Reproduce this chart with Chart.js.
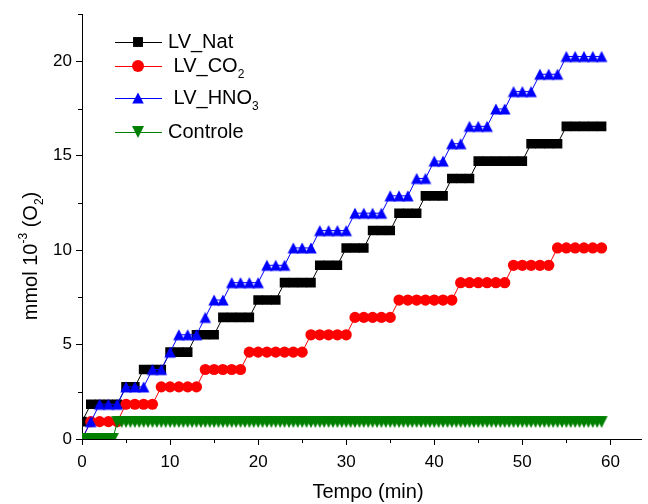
<!DOCTYPE html>
<html>
<head>
<meta charset="utf-8">
<script src="https://cdn.jsdelivr.net/npm/chart.js@4.4.1/dist/chart.umd.min.js"></script>
<style>
  html, body { margin: 0; padding: 0; background: #fff; }
  #wrap { width: 648px; height: 504px; }
</style>
</head>
<body>
<div id="wrap"><canvas id="chart" width="648" height="504"></canvas></div>
<script>
// time axis (min), one reading per minute for the three samples
const tempo = [
  0, 1, 2, 3, 4, 5, 6, 7, 8, 9,
  10, 11, 12, 13, 14, 15, 16, 17, 18, 19,
  20, 21, 22, 23, 24, 25, 26, 27, 28, 29,
  30, 31, 32, 33, 34, 35, 36, 37, 38, 39,
  40, 41, 42, 43, 44, 45, 46, 47, 48, 49,
  50, 51, 52, 53, 54, 55, 56, 57, 58, 59
];

const lvNat = [
  0.92, 1.84, 1.84, 1.84, 1.84, 2.76, 2.76, 3.68, 3.68, 3.68,
  4.6, 4.6, 4.6, 5.52, 5.52, 5.52, 6.44, 6.44, 6.44, 6.44,
  7.36, 7.36, 7.36, 8.28, 8.28, 8.28, 8.28, 9.2, 9.2, 9.2,
  10.12, 10.12, 10.12, 11.04, 11.04, 11.04, 11.96, 11.96, 11.96, 12.88,
  12.88, 12.88, 13.8, 13.8, 13.8, 14.72, 14.72, 14.72, 14.72, 14.72,
  14.72, 15.64, 15.64, 15.64, 15.64, 16.56, 16.56, 16.56, 16.56, 16.56
];

const lvCO2 = [
  0, 0.92, 0.92, 0.92, 0.92, 1.84, 1.84, 1.84, 1.84, 2.76,
  2.76, 2.76, 2.76, 2.76, 3.68, 3.68, 3.68, 3.68, 3.68, 4.6,
  4.6, 4.6, 4.6, 4.6, 4.6, 4.6, 5.52, 5.52, 5.52, 5.52,
  5.52, 6.44, 6.44, 6.44, 6.44, 6.44, 7.36, 7.36, 7.36, 7.36,
  7.36, 7.36, 7.36, 8.28, 8.28, 8.28, 8.28, 8.28, 8.28, 9.2,
  9.2, 9.2, 9.2, 9.2, 10.12, 10.12, 10.12, 10.12, 10.12, 10.12
];

const lvHNO3 = [
  0, 0.92, 1.84, 1.84, 1.84, 2.76, 2.76, 2.76, 3.68, 3.68,
  4.6, 5.52, 5.52, 5.52, 6.44, 7.36, 7.36, 8.28, 8.28, 8.28,
  8.28, 9.2, 9.2, 9.2, 10.12, 10.12, 10.12, 11.04, 11.04, 11.04,
  11.04, 11.96, 11.96, 11.96, 11.96, 12.88, 12.88, 12.88, 13.8, 13.8,
  14.72, 14.72, 15.64, 15.64, 16.56, 16.56, 16.56, 17.48, 17.48, 18.4,
  18.4, 18.4, 19.32, 19.32, 19.32, 20.26, 20.26, 20.26, 20.26, 20.26
];

// the control was read every half minute
const tempoControle = [
  0, 0.5, 1, 1.5, 2, 2.5, 3, 3.5,
  4, 4.5, 5, 5.5, 6, 6.5, 7, 7.5, 8, 8.5, 9, 9.5,
  10, 10.5, 11, 11.5, 12, 12.5, 13, 13.5, 14, 14.5, 15, 15.5, 16, 16.5, 17, 17.5, 18, 18.5, 19, 19.5,
  20, 20.5, 21, 21.5, 22, 22.5, 23, 23.5, 24, 24.5, 25, 25.5, 26, 26.5, 27, 27.5, 28, 28.5, 29, 29.5,
  30, 30.5, 31, 31.5, 32, 32.5, 33, 33.5, 34, 34.5, 35, 35.5, 36, 36.5, 37, 37.5, 38, 38.5, 39, 39.5,
  40, 40.5, 41, 41.5, 42, 42.5, 43, 43.5, 44, 44.5, 45, 45.5, 46, 46.5, 47, 47.5, 48, 48.5, 49, 49.5,
  50, 50.5, 51, 51.5, 52, 52.5, 53, 53.5, 54, 54.5, 55, 55.5, 56, 56.5, 57, 57.5, 58, 58.5, 59
];
const controle = [
  0, 0, 0, 0, 0, 0, 0, 0,
  0.9, 0.9, 0.9, 0.9, 0.9, 0.9, 0.9, 0.9, 0.9, 0.9, 0.9, 0.9,
  0.9, 0.9, 0.9, 0.9, 0.9, 0.9, 0.9, 0.9, 0.9, 0.9, 0.9, 0.9, 0.9, 0.9, 0.9, 0.9, 0.9, 0.9, 0.9, 0.9,
  0.9, 0.9, 0.9, 0.9, 0.9, 0.9, 0.9, 0.9, 0.9, 0.9, 0.9, 0.9, 0.9, 0.9, 0.9, 0.9, 0.9, 0.9, 0.9, 0.9,
  0.9, 0.9, 0.9, 0.9, 0.9, 0.9, 0.9, 0.9, 0.9, 0.9, 0.9, 0.9, 0.9, 0.9, 0.9, 0.9, 0.9, 0.9, 0.9, 0.9,
  0.9, 0.9, 0.9, 0.9, 0.9, 0.9, 0.9, 0.9, 0.9, 0.9, 0.9, 0.9, 0.9, 0.9, 0.9, 0.9, 0.9, 0.9, 0.9, 0.9,
  0.9, 0.9, 0.9, 0.9, 0.9, 0.9, 0.9, 0.9, 0.9, 0.9, 0.9, 0.9, 0.9, 0.9, 0.9, 0.9, 0.9, 0.9, 0.9
];

// labelled (major) ticks; the others in between are minor
const xTickLabels = [0, 10, 20, 30, 40, 50, 60];
const yTickLabels = [0, 5, 10, 15, 20];

const FONT = '"Liberation Sans", Arial, sans-serif';
Chart.defaults.font.family = FONT;
Chart.defaults.color = '#000';

function pts(xs, ys) {
  return xs.map((x, i) => ({ x: x, y: ys[i] }));
}

// Origin style triangles, centred on the point
function triangleMarker(color, down, w, h) {
  const c = document.createElement('canvas');
  c.width = 14;
  c.height = 14;
  const g = c.getContext('2d');
  const l = 7 - w / 2, r = 7 + w / 2, t = 7 - h / 2, b = 7 + h / 2;
  g.fillStyle = color;
  g.beginPath();
  if (down) {
    g.moveTo(l, t); g.lineTo(r, t); g.lineTo(7, b);
  } else {
    g.moveTo(l, b); g.lineTo(r, b); g.lineTo(7, t);
  }
  g.closePath();
  g.fill();
  return c;
}
const triUp = triangleMarker('#0000ff', false, 11.5, 11);
const triDown = triangleMarker('#008000', true, 12, 12);

// legend entries drawn by hand so the chemical formulas get subscripts
const legendItems = [
  { parts: [{ t: 'LV_Nat' }], color: '#000000', style: 'rect', radius: 7, y: 42 },
  { parts: [{ t: ' LV_CO' }, { t: '2', sub: true }], color: '#ff0000', style: 'circle', radius: 6, y: 66 },
  { parts: [{ t: ' LV_HNO' }, { t: '3', sub: true }], color: '#0000ff', style: triUp, radius: 6.5, y: 98 },
  { parts: [{ t: 'Controle' }], color: '#008000', style: triDown, radius: 6.5, y: 132 }
];

function richWidth(ctx, parts, size) {
  let w = 0;
  parts.forEach(p => {
    const s = (p.sub || p.sup) ? Math.round(size * 0.6) : size;
    ctx.font = s + 'px ' + FONT;
    w += ctx.measureText(p.t).width;
  });
  return w;
}

function drawRich(ctx, parts, x, y, size) {
  let cx = x;
  parts.forEach(p => {
    const s = (p.sub || p.sup) ? Math.round(size * 0.6) : size;
    ctx.font = s + 'px ' + FONT;
    let dy = 0;
    if (p.sub) dy = size * 0.42;
    if (p.sup) dy = -size * 0.36;
    ctx.fillText(p.t, cx, y + dy);
    cx += ctx.measureText(p.t).width;
  });
}

const extras = {
  id: 'extras',
  afterDraw(chart) {
    const ctx = chart.ctx;
    const xs = chart.scales.x, ys = chart.scales.y;
    const area = chart.chartArea;
    ctx.save();

    // minor ticks (shorter than the labelled ones)
    ctx.strokeStyle = '#000';
    ctx.lineWidth = 1;
    ctx.beginPath();
    xs.ticks.forEach(t => {
      if (xTickLabels.includes(t.value)) return;
      const px = Math.round(xs.getPixelForValue(t.value)) + 0.5;
      ctx.moveTo(px, area.bottom);
      ctx.lineTo(px, area.bottom + 4);
    });
    ys.ticks.forEach(t => {
      if (yTickLabels.includes(t.value)) return;
      const py = Math.round(ys.getPixelForValue(t.value)) + 0.5;
      ctx.moveTo(area.left, py);
      ctx.lineTo(area.left - 4, py);
    });
    ctx.stroke();

    // legend
    ctx.textBaseline = 'middle';
    ctx.textAlign = 'left';
    legendItems.forEach(it => {
      ctx.strokeStyle = it.color;
      ctx.lineWidth = 1;
      ctx.beginPath();
      ctx.moveTo(115, it.y + 0.5);
      ctx.lineTo(162, it.y + 0.5);
      ctx.stroke();
      ctx.fillStyle = it.color;
      Chart.helpers.drawPoint(ctx, { pointStyle: it.style, radius: it.radius, rotation: 0, borderWidth: 0 }, 138, it.y);
      ctx.fillStyle = '#000';
      drawRich(ctx, it.parts, 168, it.y, 20);
    });

    // axis titles
    const xTitle = [{ t: 'Tempo (min)' }];
    const wx = richWidth(ctx, xTitle, 20);
    drawRich(ctx, xTitle, 368 - wx / 2, 492, 20);

    const yTitle = [{ t: 'mmol 10' }, { t: '-3', sup: true }, { t: ' (O' }, { t: '2', sub: true }, { t: ')' }];
    const wy = richWidth(ctx, yTitle, 20);
    ctx.translate(31, 256);
    ctx.rotate(-Math.PI / 2);
    drawRich(ctx, yTitle, -wy / 2, 0, 20);
    ctx.restore();
  }
};

const common = {
  borderWidth: 1,
  pointBorderWidth: 0,
  pointHoverRadius: 0,
  tension: 0,
  clip: 0
};

new Chart(document.getElementById('chart'), {
  type: 'line',
  data: {
    datasets: [
      Object.assign({
        label: 'LV_Nat', data: pts(tempo, lvNat),
        borderColor: '#000000', backgroundColor: '#000000',
        pointStyle: 'rect', pointRadius: 6.8, order: 4
      }, common),
      Object.assign({
        label: 'LV_CO2', data: pts(tempo, lvCO2),
        borderColor: '#ff0000', backgroundColor: '#ff0000',
        pointStyle: 'circle', pointRadius: 5.6, order: 3
      }, common),
      Object.assign({
        label: 'LV_HNO3', data: pts(tempo, lvHNO3),
        borderColor: '#0000ff', backgroundColor: '#0000ff',
        pointStyle: triUp, pointRadius: 6, order: 2
      }, common),
      Object.assign({
        label: 'Controle', data: pts(tempoControle, controle),
        borderColor: '#008000', backgroundColor: '#008000',
        pointStyle: triDown, pointRadius: 6, order: 1
      }, common)
    ]
  },
  options: {
    responsive: false,
    animation: false,
    events: [],
    devicePixelRatio: 1,
    layout: { padding: { left: 0, top: 13, right: 2, bottom: 0 } },
    plugins: {
      legend: { display: false },
      tooltip: { enabled: false }
    },
    scales: {
      x: {
        type: 'linear',
        min: 0,
        max: 63.5,
        z: 1,
        afterFit: s => { s.height = 65; },
        border: { display: true, color: '#000', width: 1 },
        grid: {
          drawOnChartArea: false,
          drawTicks: true,
          tickLength: 6,
          tickColor: c => xTickLabels.includes(c.tick.value) ? '#000' : 'rgba(0,0,0,0)'
        },
        ticks: {
          stepSize: 5,
          includeBounds: false,
          maxRotation: 0,
          autoSkip: false,
          padding: 7,
          font: { size: 17 },
          callback: v => xTickLabels.includes(v) ? String(v) : ''
        }
      },
      y: {
        type: 'linear',
        min: 0,
        max: 22.5,
        z: 1,
        afterFit: s => { s.width = 82; },
        border: { display: true, color: '#000', width: 1 },
        grid: {
          drawOnChartArea: false,
          drawTicks: true,
          tickLength: 6,
          tickColor: c => yTickLabels.includes(c.tick.value) ? '#000' : 'rgba(0,0,0,0)'
        },
        ticks: {
          stepSize: 2.5,
          includeBounds: false,
          autoSkip: false,
          padding: 4,
          font: { size: 17 },
          callback: v => yTickLabels.includes(v) ? String(v) : ''
        }
      }
    }
  },
  plugins: [extras]
});
</script>
</body>
</html>
